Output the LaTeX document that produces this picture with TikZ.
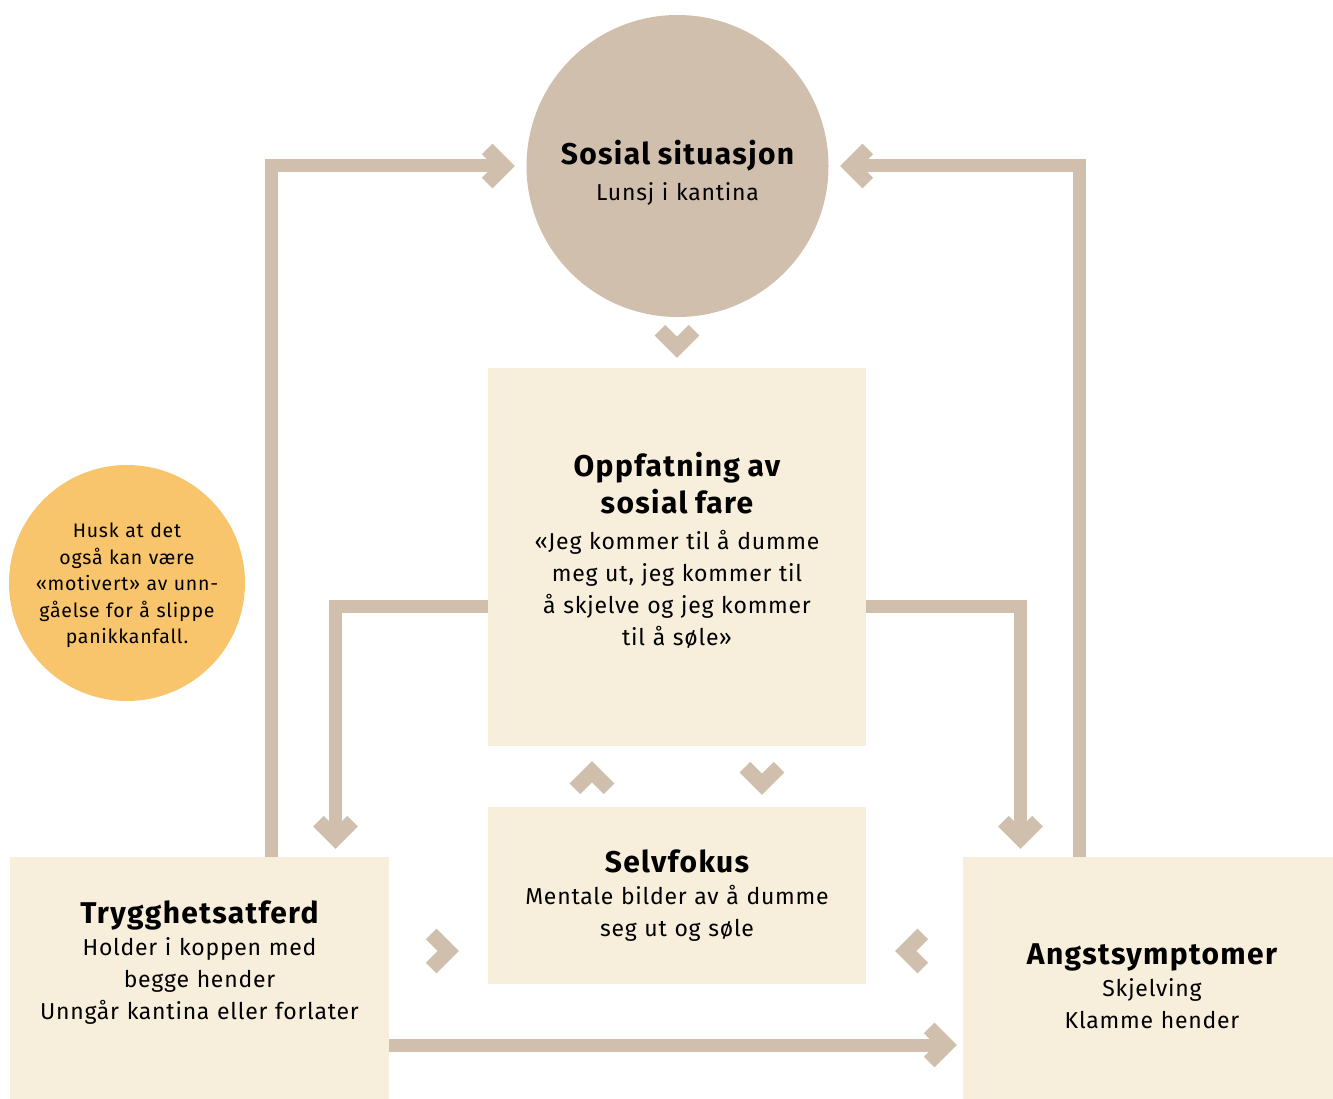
\documentclass[tikz,border=0pt]{standalone}
\usepackage{fontspec}
\setmainfont{Fira Sans}[LetterSpace=3.3]
\usetikzlibrary{calc}
\definecolor{sand}{HTML}{D1BFAE}
\definecolor{cream}{HTML}{F7EEDC}
\definecolor{honey}{HTML}{F8C56C}
\newcommand{\headfont}{\bfseries\addfontfeatures{LetterSpace=4.5}\fontsize{30}{37}\selectfont}
\newcommand{\bodyfont}{\fontsize{23}{32}\selectfont}
\tikzset{
    panel/.style = {fill=cream, rectangle, inner sep=0pt},
    panel-text/.style = {inner sep=0pt, align=center, text width=370pt, font=\bodyfont},
    hub/.style = {fill=sand, circle, inner sep=0pt, minimum size=302pt},
    note/.style = {fill=honey, circle, inner sep=0pt, minimum size=236pt},
    note-text/.style = {inner sep=0pt, align=center, text width=220pt, font=\addfontfeatures{LetterSpace=3.9}\fontsize{19.5}{26.5}\selectfont},
    link/.style = {draw=sand, line width=13pt, line cap=butt, line join=miter, shorten >=12pt},
    chev-line/.style = {draw=sand, line width=15pt, line cap=butt, line join=miter},
    chev/.pic = {\draw[chev-line] (-27.6,17) -- (-10.6,0) -- (-27.6,-17);},
}

\begin{document}
\begin{tikzpicture}[x=1pt, y=-1pt]
\useasboundingbox (0,0) rectangle (1333,1099);

% boxes
\node[hub] (soc) at (677.5,166) {};
\node[panel-text] (soc-txt) at (677.5,172.5) {{\headfont Sosial situasjon\par}\vspace{4pt}Lunsj i kantina};
\node[panel, minimum width=378pt, minimum height=378pt] (oppf) at (677,557) {};
\node[panel-text] (oppf-txt) at (677,550.5) {{\headfont Oppfatning av\\ sosial fare\par}\vspace{4pt}«Jeg kommer til å dumme\\ meg ut, jeg kommer til\\ å skjelve og jeg kommer\\ til å søle»};
\node[panel, minimum width=378pt, minimum height=177pt] (selv) at (677,895.5) {};
\node[panel-text] (selv-txt) at (677,896) {{\headfont Selvfokus\par}Mentale bilder av å dumme\\ seg ut og søle};
\node[panel, minimum width=379pt, minimum height=242pt] (trygg) at (199.5,978) {};
\node[panel-text] (trygg-txt) at (199.5,963) {{\headfont Trygghetsatferd\par}Holder i koppen med\\ begge hender\\ Unngår kantina eller forlater};
\node[panel, minimum width=370pt, minimum height=242pt] (angst) at (1148,978) {};
\node[panel-text] (angst-txt) at (1152,986) {{\headfont Angstsymptomer\par}Skjelving\\ Klamme hender};
\node[note] (husk) at (127,583) {};
\node[note-text] (husk-txt) at (127,585.5) {Husk at det\\ også kan være\\ «motivert» av unn-\\ gåelse for å slippe\\ panikkanfall.};

% arrow ends
\coordinate (socL) at ([xshift=-11.5pt]soc.west);
\coordinate (socR) at ([xshift=11.5pt]soc.east);
\coordinate (tryggIn) at ($(335.5,0 |- trygg.north)+(0,-8)$);
\coordinate (angstIn) at ($(1020.5,0 |- angst.north)+(0,-8)$);
\coordinate (angstL) at ($(angst.west |- 0,1045)+(-6,0)$);

% connectors
\draw[link] (271.5,0 |- trygg.north) |- (socL);
\draw[link] (1079.5,0 |- angst.north) |- (socR);
\draw[link] (oppf.west |- 0,606.5) -| (tryggIn);
\draw[link] (oppf.east |- 0,606.5) -| (angstIn);
\draw[link] (trygg.east |- 0,1045) -- (angstL);

\pic at (socL) {chev};
\pic[rotate=180] at (socR) {chev};
\pic[rotate=-90] at (tryggIn) {chev};
\pic[rotate=-90] at (angstIn) {chev};
\pic at (angstL) {chev};

% loose chevrons
\pic[rotate=-90] at ([yshift=10pt]oppf.north) {chev};
\pic[rotate=90] at ([xshift=-85pt, yshift=-15pt]oppf.south) {chev};
\pic[rotate=-90] at ([xshift=85pt, yshift=12pt]selv.north) {chev};
\pic at ($(selv.west |- 0,951)+(-29,0)$) {chev};
\pic[rotate=180] at ($(selv.east |- 0,951)+(29,0)$) {chev};
\end{tikzpicture}
\end{document}
